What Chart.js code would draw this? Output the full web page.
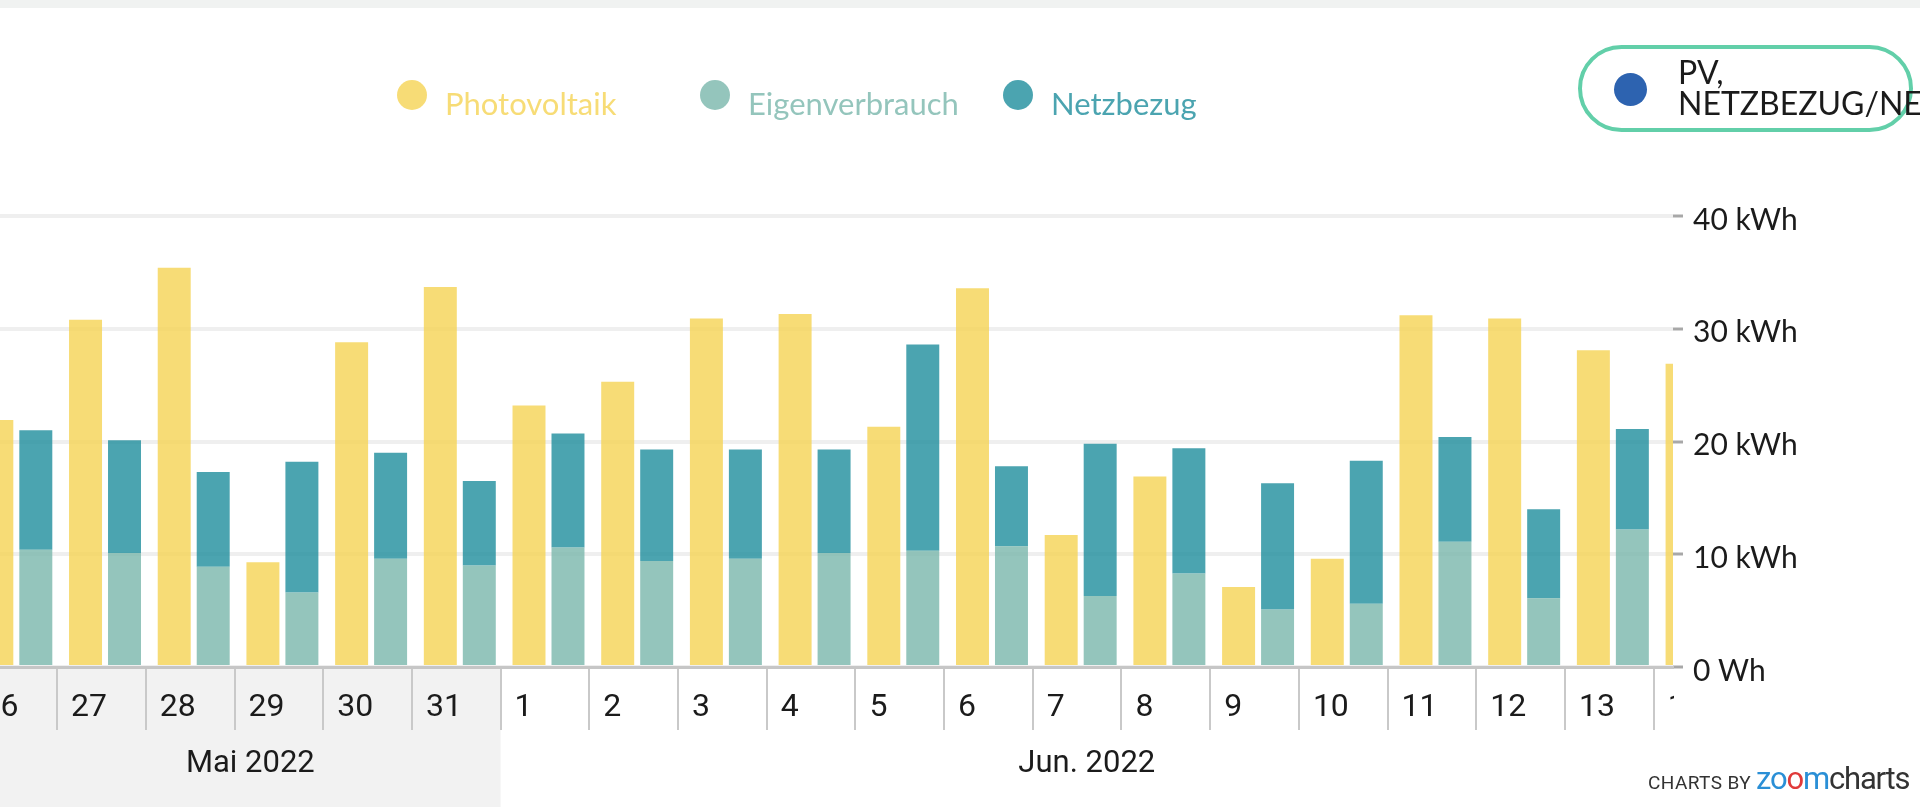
<!DOCTYPE html>
<html>
<head>
<meta charset="utf-8">
<script src="https://cdn.jsdelivr.net/npm/chart.js@4.4.1/dist/chart.umd.min.js"></script>
<style>
html, body { margin: 0; padding: 0; width: 1920px; height: 810px; overflow: hidden; background: #fff; font-family: Lato, sans-serif; }
#topbar { position: absolute; left: 0; top: 0; width: 1920px; height: 8px; background: #f0f2f1; }
#chart { position: absolute; left: 0; top: 0; }
.dot { position: absolute; width: 30px; height: 30px; border-radius: 50%; }
.legtext { position: absolute; top: 88px; font: 31px/30px Lato, sans-serif; white-space: nowrap; }
#pill { position: absolute; left: 1578px; top: 45px; width: 335px; height: 87px; box-sizing: border-box;
        border: 4px solid #62cfa9; border-radius: 46px; }
#pilldot { position: absolute; left: 1614px; top: 73px; width: 33px; height: 33px; border-radius: 50%; background: #2d63b0; }
#pilltext { position: absolute; left: 1678px; top: 56px; font: 32px/31px Lato, sans-serif; color: #1b1b1b; white-space: nowrap; }
#logo { position: absolute; left: 1648px; top: 760px; white-space: nowrap; font-family: Roboto, sans-serif; color: #333; }
#logo .cb { font-size: 19px; letter-spacing: 0.4px; }
#logo .zc { font-size: 31px; letter-spacing: -1.2px; }
</style>
</head>
<body>
<div id="topbar"></div>
<canvas id="chart" width="1920" height="810"></canvas>
<div id="legend"></div>
<div id="pill"></div>
<div id="pilldot"></div>
<div id="pilltext">PV,<br>NETZBEZUG/NETZEINSPEISUNG</div>
<div id="logo"><span class="cb">CHARTS BY </span><span class="zc"><span style="color:#2a8fd6">zo</span><span style="color:#e03a3a">o</span><span style="color:#2a8fd6">m</span>charts</span></div>
<script>
// Tagesdaten 26. Mai - 14. Juni 2022 (kWh)
const dayLabels = ['26', '27', '28', '29', '30', '31', '1', '2', '3', '4', '5', '6', '7', '8', '9', '10', '11', '12', '13', '14'];
const monthLabels = ['Mai 2022', 'Jun. 2022'];
const photovoltaik = [21.9, 30.8, 35.4, 9.3, 28.8, 33.7, 23.2, 25.3, 30.9, 31.3, 21.3, 33.6, 11.7, 16.9, 7.1, 9.6, 31.2, 30.9, 28.1, 26.9];
const eigenverbrauch = [10.4, 10.1, 8.9, 6.6, 9.6, 9.0, 10.6, 9.4, 9.6, 10.1, 10.3, 10.7, 6.3, 8.3, 5.1, 5.6, 11.1, 6.1, 12.2, null];
const netzbezug = [10.6, 10.0, 8.4, 11.6, 9.4, 7.5, 10.1, 9.9, 9.7, 9.2, 18.3, 7.1, 13.5, 11.1, 11.2, 12.7, 9.3, 7.9, 8.9, null];
const yTicks = [0, 10, 20, 30, 40];

const seriesNames = ['Photovoltaik', 'Eigenverbrauch', 'Netzbezug'];
const seriesColors = ['rgba(245, 210, 80, 0.78)', 'rgba(121, 182, 171, 0.8)', 'rgba(30, 141, 156, 0.8)'];

// visible window of the zoomed time axis
const xMin = -0.184;
const xMax = 18.678;
const edgeShift = 0.54;
const firstJune = dayLabels.indexOf('1');
const monthSplit = firstJune - edgeShift;

// HTML legend
const legendLeft = [397, 700, 1003];
const legend = document.getElementById('legend');
seriesNames.forEach((name, i) => {
    const dot = document.createElement('div');
    dot.className = 'dot';
    dot.style.left = legendLeft[i] + 'px';
    dot.style.top = '80px';
    dot.style.background = seriesColors[i];
    legend.appendChild(dot);
    const txt = document.createElement('div');
    txt.className = 'legtext';
    txt.style.left = (legendLeft[i] + 48) + 'px';
    txt.style.color = seriesColors[i];
    txt.textContent = name;
    legend.appendChild(txt);
});

const monthBand = {
    id: 'monthBand',
    beforeDraw(chart) {
        const { ctx, chartArea, scales } = chart;
        const xEnd = scales.x.getPixelForValue(monthSplit);
        ctx.save();
        ctx.fillStyle = '#f2f2f2';
        ctx.fillRect(0, chartArea.bottom, xEnd, 807 - chartArea.bottom);
        ctx.restore();
    },
    afterDatasetsDraw(chart) {
        // day labels are cut at the plot edge like the original
        const ctx = chart.ctx;
        ctx.save();
        ctx.beginPath();
        ctx.rect(0, 0, chart.chartArea.right + 1, chart.height);
        ctx.clip();
    },
    afterDraw(chart) {
        chart.ctx.restore();
    }
};

const toPoints = arr => arr.map((y, x) => ({ x, y }));

Chart.defaults.font.family = 'Roboto';

const ctx = document.getElementById('chart').getContext('2d');
new Chart(ctx, {
    type: 'bar',
    data: {
        datasets: [{
            label: seriesNames[0],
            data: toPoints(photovoltaik),
            backgroundColor: seriesColors[0],
            stack: 'pv',
            clip: 0
        }, {
            label: seriesNames[1],
            data: toPoints(eigenverbrauch),
            backgroundColor: seriesColors[1],
            stack: 'verbrauch',
            clip: 0
        }, {
            label: seriesNames[2],
            data: toPoints(netzbezug),
            backgroundColor: seriesColors[2],
            stack: 'verbrauch',
            clip: 0
        }]
    },
    options: {
        responsive: false,
        animation: false,
        devicePixelRatio: 1,
        categoryPercentage: 0.879,
        barPercentage: 0.846,
        layout: { padding: { top: 216, left: 0, right: 0, bottom: 0 } },
        plugins: {
            legend: { display: false },
            tooltip: { enabled: false }
        },
        scales: {
            x: {
                type: 'linear',
                position: 'bottom',
                weight: 0,
                min: xMin,
                max: xMax,
                offset: false,
                afterBuildTicks: scale => {
                    scale.ticks = dayLabels.map((d, i) => ({ value: i - edgeShift }));
                },
                afterFit: scale => {
                    scale.height = 63;
                    scale.paddingLeft = 0;
                    scale.paddingRight = 0;
                },
                grid: {
                    offset: false,
                    drawOnChartArea: false,
                    drawTicks: true,
                    tickLength: 63,
                    color: '#c9c9c9',
                    lineWidth: 2
                },
                border: { display: true, color: '#c6c6c6', width: 3 },
                ticks: {
                    autoSkip: false,
                    maxRotation: 0,
                    align: 'start',
                    labelOffset: 14,
                    padding: -41,
                    z: 1,
                    color: '#1b1b1b',
                    font: { family: 'Roboto', size: 32 },
                    callback: (v, i) => dayLabels[i]
                }
            },
            x2: {
                type: 'linear',
                position: 'bottom',
                weight: 1,
                min: xMin,
                max: xMax,
                offset: false,
                afterBuildTicks: scale => {
                    scale.ticks = [{ value: (xMin + monthSplit) / 2 }, { value: (monthSplit + xMax) / 2 }];
                },
                afterFit: scale => {
                    scale.height = 80;
                    scale.paddingLeft = 0;
                    scale.paddingRight = 0;
                },
                grid: { display: false, drawTicks: false },
                border: { display: false },
                ticks: {
                    autoSkip: false,
                    maxRotation: 0,
                    padding: 16,
                    color: '#1b1b1b',
                    font: { family: 'Roboto', size: 31 },
                    callback: (v, i) => monthLabels[i]
                }
            },
            y: {
                position: 'right',
                stacked: true,
                min: 0,
                max: 40,
                afterBuildTicks: scale => {
                    scale.ticks = yTicks.map(v => ({ value: v }));
                },
                afterFit: scale => {
                    scale.width = 247;
                    scale.paddingTop = 0;
                    scale.paddingBottom = 0;
                },
                grid: {
                    color: '#efefef',
                    lineWidth: 4,
                    drawTicks: true,
                    tickLength: 10,
                    tickColor: '#a8a8a8',
                    tickWidth: 3
                },
                border: { display: false },
                ticks: {
                    padding: 10,
                    labelOffset: 4,
                    color: '#1b1b1b',
                    font: { family: 'Lato', size: 30 },
                    callback: v => v === 0 ? '0 Wh' : v + ' kWh'
                }
            }
        }
    },
    plugins: [monthBand]
});
</script>
</body>
</html>
